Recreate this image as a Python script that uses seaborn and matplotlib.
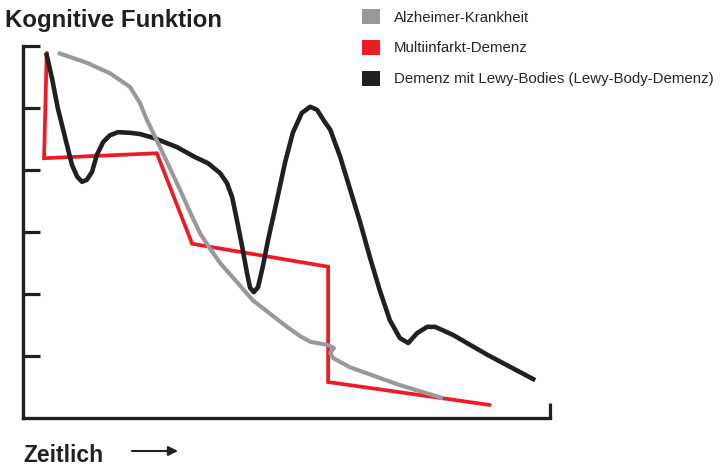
import matplotlib
matplotlib.use("Agg")
import matplotlib.pyplot as plt
from matplotlib.patches import Patch
import seaborn as sns
import pandas as pd

# values (time 0-100, cognitive function 0-6)
alz_x = [6.6, 12.1, 16.5, 20.3, 22.2, 23.5, 26.0, 29.8, 31.7, 33.6, 35.5, 37.4,
         40.2, 43.6, 46.9, 50.1, 52.6, 54.5, 57.7, 59.0, 58.3, 58.8, 62.0,
         71.5, 79.7]
alz_y = [5.89, 5.73, 5.56, 5.34, 5.08, 4.81, 4.37, 3.68, 3.32, 2.98, 2.73, 2.50,
         2.23, 1.90, 1.68, 1.47, 1.32, 1.23, 1.18, 1.13, 1.05, 0.97, 0.82,
         0.53, 0.32]

mid_x = [4.5, 4.0, 25.4, 32.1, 57.9, 57.9, 88.6]
mid_y = [5.89, 4.19, 4.27, 2.81, 2.44, 0.58, 0.21]

lewy_x = [4.4, 5.5, 6.6, 8.0, 9.3, 10.3, 11.2, 12.1, 13.1, 14.0, 15.2, 16.5,
          18.0, 20.3, 22.2, 24.7, 29.2, 32.6, 35.1, 37.4, 38.7, 39.7, 40.6,
          41.6, 42.5, 43.1, 43.8, 44.6, 45.5, 46.5, 48.2, 49.7, 51.2, 52.9,
          54.5, 55.8, 57.3, 58.3, 60.2, 62.1, 64.0, 65.8, 67.7, 69.6, 71.5,
          73.1, 74.8, 76.7, 78.2, 81.6, 88.1, 97.2]
lewy_y = [5.89, 5.48, 5.00, 4.52, 4.08, 3.89, 3.81, 3.84, 3.97, 4.24, 4.45, 4.56,
          4.61, 4.60, 4.58, 4.52, 4.37, 4.21, 4.11, 3.95, 3.79, 3.56, 3.19,
          2.76, 2.34, 2.10, 2.03, 2.11, 2.44, 2.87, 3.52, 4.11, 4.60, 4.92,
          5.02, 4.97, 4.77, 4.65, 4.21, 3.68, 3.15, 2.60, 2.06, 1.58, 1.29,
          1.21, 1.37, 1.47, 1.47, 1.34, 1.02, 0.61]

labels = ["Alzheimer-Krankheit", "Multiinfarkt-Demenz",
          "Demenz mit Lewy-Bodies (Lewy-Body-Demenz)"]
colors = ["#98999c", "#ed1c24", "#231f20"]

sns.set_style("white")
plt.rcParams["font.family"] = ["Liberation Sans", "DejaVu Sans"]

fig = plt.figure(figsize=(7.23, 4.66), dpi=100)
ax = fig.add_axes([0.0318, 0.1030, 0.7289, 0.7983])

alz = pd.DataFrame({"x": alz_x, "y": alz_y})
mid = pd.DataFrame({"x": mid_x, "y": mid_y})
lewy = pd.DataFrame({"x": lewy_x, "y": lewy_y})

sns.lineplot(data=mid, x="x", y="y", sort=False, estimator=None, ax=ax,
             color=colors[1], lw=2.7, solid_joinstyle="miter")
sns.lineplot(data=lewy, x="x", y="y", sort=False, estimator=None, ax=ax,
             color=colors[2], lw=3.3, solid_joinstyle="round",
             solid_capstyle="butt")
sns.lineplot(data=alz, x="x", y="y", sort=False, estimator=None, ax=ax,
             color=colors[0], lw=3.0, solid_joinstyle="round",
             solid_capstyle="butt")

ax.set_xlim(0, 100)
ax.set_ylim(0, 6)
ax.set_yticks([1, 2, 3, 4, 5, 6])
ax.set_xticks([100])
ax.set_yticklabels([])
ax.set_xticklabels([])
ax.tick_params(axis="y", direction="in", length=12, width=2.3, color=colors[2], left=True)
ax.tick_params(axis="x", direction="in", length=11, width=2.3, color=colors[2], bottom=True)
ax.set_xlabel("")
ax.set_ylabel("")
for side in ["top", "right"]:
    ax.spines[side].set_visible(False)
for side in ["left", "bottom"]:
    ax.spines[side].set_linewidth(2.4)
    ax.spines[side].set_color(colors[2])
    ax.spines[side].set_capstyle("projecting")

fig.text(5 / 723, 1 - 20 / 466, "Kognitive Funktion", fontsize=17.3,
         fontweight="bold", color=colors[2], va="center", ha="left")
fig.text(23 / 723, 1 - 456 / 466, "Zeitlich", fontsize=16.5,
         fontweight="bold", color=colors[2], va="center", ha="left")
ax.annotate("", xy=(178 / 723, 1 - 451 / 466), xytext=(132 / 723, 1 - 451 / 466),
            xycoords="figure fraction", textcoords="figure fraction",
            arrowprops=dict(arrowstyle="-|>", color=colors[2], lw=1.5,
                            mutation_scale=14, shrinkA=0, shrinkB=0))

handles = [Patch(facecolor=c, edgecolor="none", label=l) for c, l in zip(colors, labels)]
fig.legend(handles=handles, loc="upper left", bbox_to_anchor=(362 / 723, 1 - 9 / 466),
           frameon=False, fontsize=10.8, borderpad=0, handlelength=1.2,
           handleheight=1.2, handletextpad=0.9, labelspacing=1.0,
           borderaxespad=0)

fig.savefig("out.png", dpi=100)
